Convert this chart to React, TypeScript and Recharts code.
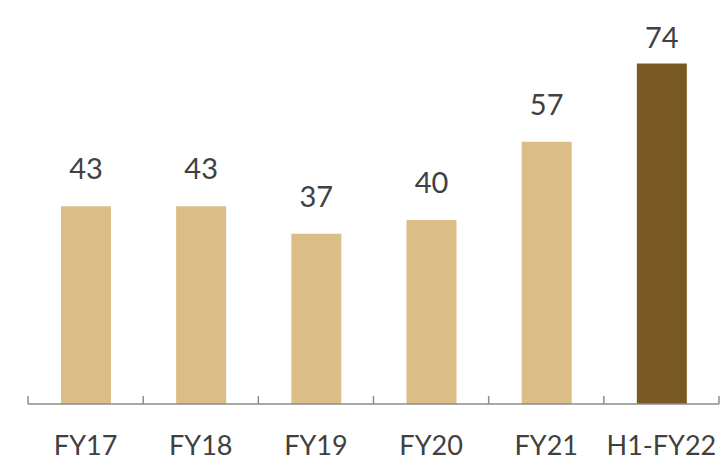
import React from 'react';
import { BarChart, Bar, XAxis, YAxis, Cell, LabelList } from 'recharts';

const categories = ['FY17', 'FY18', 'FY19', 'FY20', 'FY21', 'H1-FY22'];
const values = [43, 43, 37, 40, 57, 74];
const barColors = ['#DBBD87', '#DBBD87', '#DBBD87', '#DBBD87', '#DBBD87', '#7A5A24'];
const boundaryTicks = [0, 1, 2, 3, 4, 5, 6];

const data = categories.map((c, i) => ({ name: c, value: values[i], pos: i + 0.5 }));

const EmptyTick = () => <g />;

const ValueLabel = (props: any) => {
  const { x, y, width, value } = props;
  const ty = Math.max(Number(y) - 27, 48);
  return (
    <text
      x={Number(x) + Number(width) / 2}
      y={ty}
      textAnchor="middle"
      fill="#404040"
      fontSize={29}
      fontFamily="Lato, sans-serif"
    >
      {value}
    </text>
  );
};

export default function App() {
  return (
    <div style={{ position: 'absolute', left: 0, top: 0 }}>
      <BarChart
        width={728}
        height={464}
        data={data}
        margin={{ top: 36, right: 9, left: 28, bottom: 0 }}
        barSize={50}
      >
        <XAxis
          xAxisId="grid"
          type="number"
          dataKey="pos"
          domain={[0, 6]}
          ticks={boundaryTicks}
          interval={0}
          tick={<EmptyTick />}
          mirror
          height={1}
          tickSize={8}
          axisLine={{ stroke: '#8c8c8c', strokeWidth: 1.5 }}
          tickLine={{ stroke: '#8c8c8c', strokeWidth: 1.5 }}
        />
        <XAxis
          dataKey="name"
          axisLine={false}
          tickLine={false}
          height={60}
          tickMargin={26}
          tick={{ fill: '#404040', fontSize: 27, fontFamily: 'Lato, sans-serif' }}
          interval={0}
        />
        <YAxis hide domain={[0, 80]} />
        <Bar dataKey="value" isAnimationActive={false}>
          {data.map((d, i) => (
            <Cell key={d.name} fill={barColors[i]} />
          ))}
          <LabelList dataKey="value" content={<ValueLabel />} />
        </Bar>
      </BarChart>
    </div>
  );
}
